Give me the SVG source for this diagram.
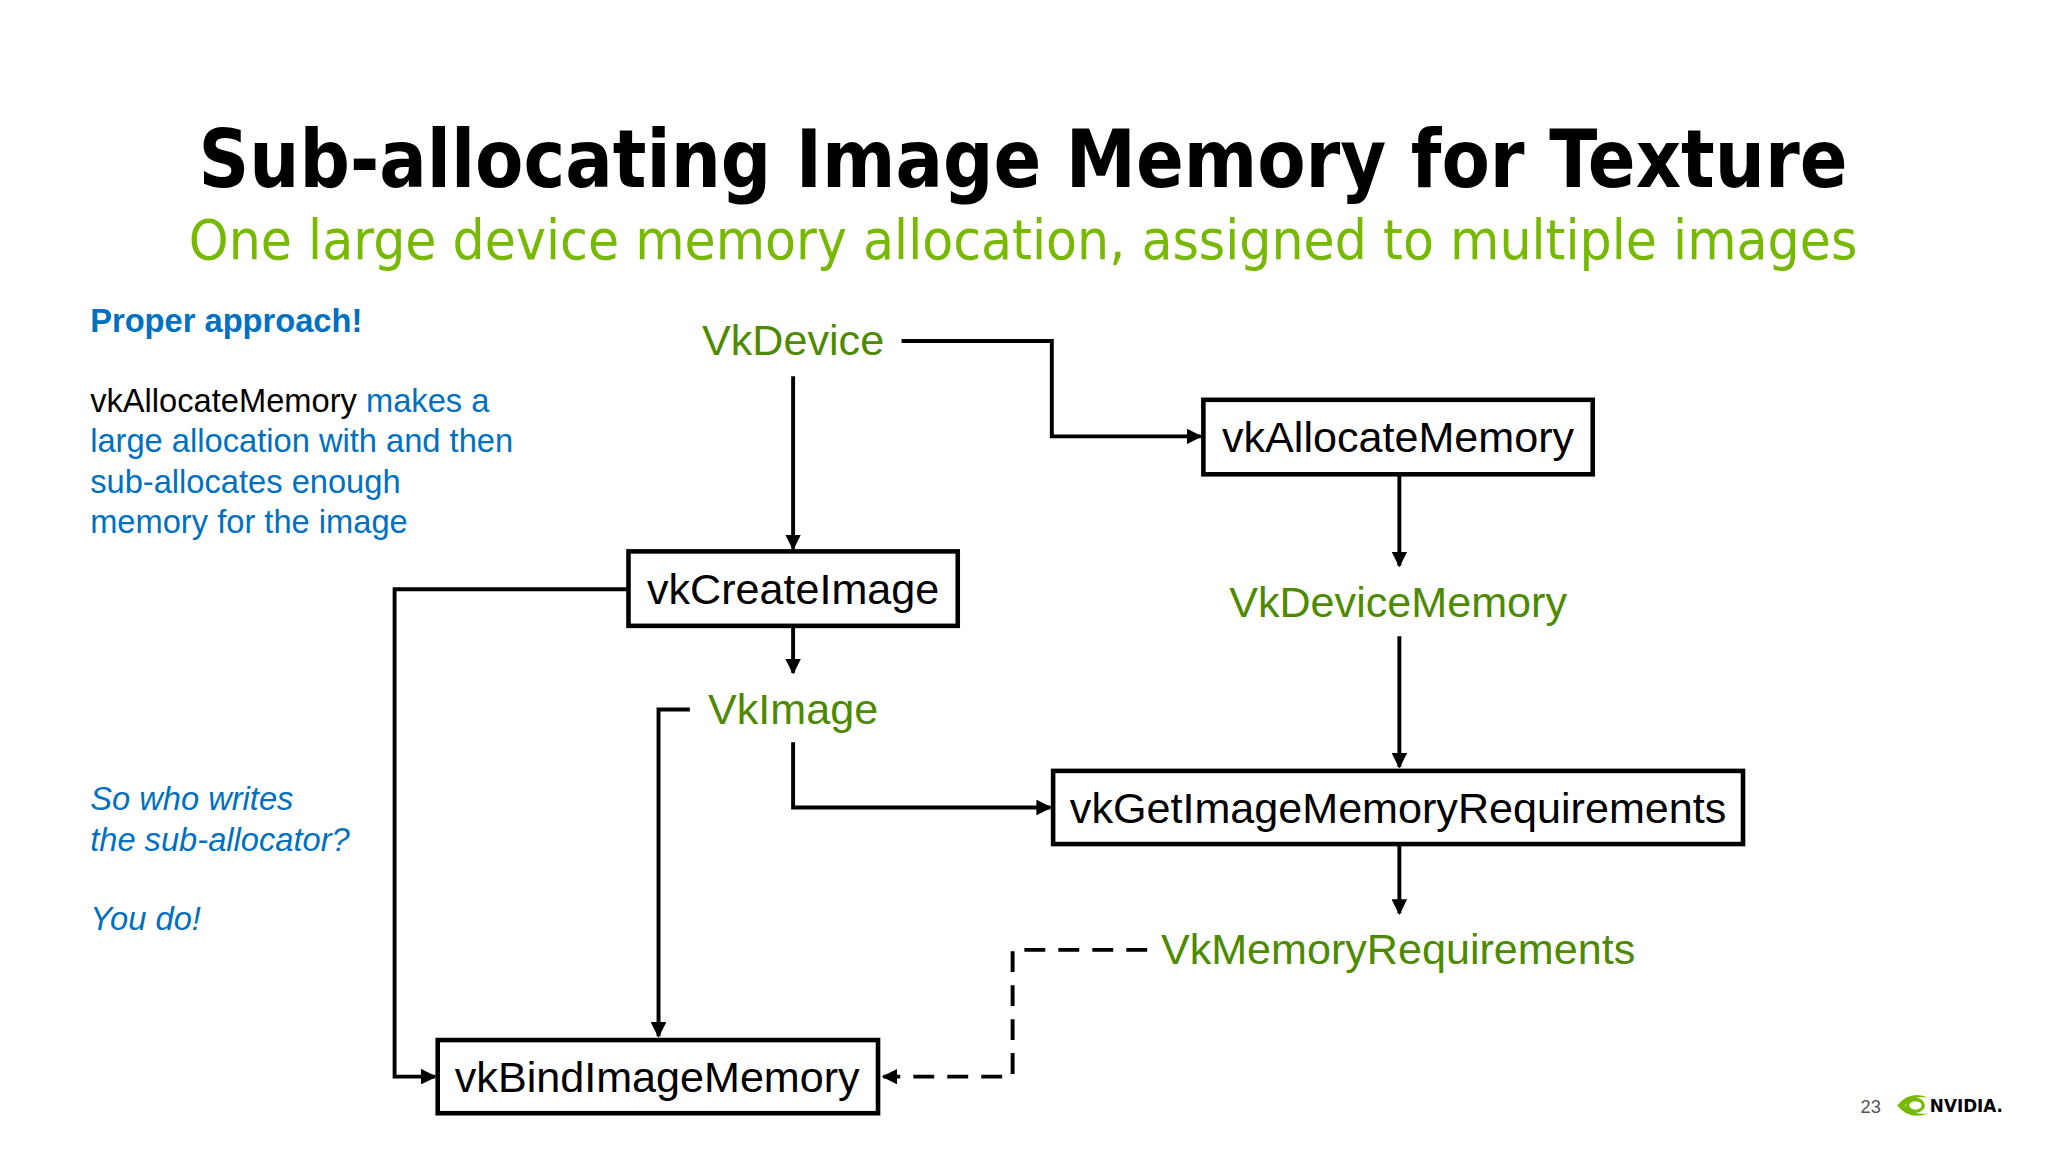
<svg xmlns="http://www.w3.org/2000/svg" width="2048" height="1152" viewBox="0 0 2048 1152">
<style>
.box{fill:#fff;stroke:#000;stroke-width:3.5}
.bt{font-family:"Liberation Sans",Arial,sans-serif;font-size:33px;fill:#000;text-anchor:middle}
.lb{font-family:"Liberation Sans",Arial,sans-serif;font-size:33px;fill:#4e8a00;text-anchor:middle}
.ln{fill:none;stroke:#000;stroke-width:3}
.side{font-family:"Liberation Sans",Arial,sans-serif;font-size:25px;fill:#0070c0}
</style>
<defs>
<marker id="ah" viewBox="0 0 10 10" refX="9" refY="5" markerWidth="4" markerHeight="4" orient="auto"><path d="M0,0L10,5L0,10z" fill="#000"/></marker>
</defs>
<rect width="2048" height="1152" fill="#fff"/>
<g transform="scale(1.3066)">
<g id="title">
<text x="783" y="143" text-anchor="middle" font-family="'DejaVu Sans',sans-serif" font-weight="bold" font-size="62" textLength="1262" lengthAdjust="spacingAndGlyphs">Sub-allocating Image Memory for Texture</text>
<text x="783" y="198" text-anchor="middle" font-family="'DejaVu Sans',sans-serif" font-size="42" fill="#76b900" textLength="1277" lengthAdjust="spacingAndGlyphs">One large device memory allocation, assigned to multiple images</text>
</g>
<g id="sidetext">
<text x="69" y="254" class="side" font-weight="bold">Proper approach!</text>
<text x="69" y="315" class="side"><tspan fill="#000">vkAllocateMemory</tspan> makes a</text>
<text x="69" y="346" class="side">large allocation with and then</text>
<text x="69" y="377" class="side">sub-allocates enough</text>
<text x="69" y="408" class="side">memory for the image</text>
<text x="69" y="620" class="side" font-style="italic">So who writes</text>
<text x="69" y="651" class="side" font-style="italic">the sub-allocator?</text>
<text x="69" y="712" class="side" font-style="italic">You do!</text>
</g>
<g id="connectors">
<path class="ln" d="M690,261H805V334H919" marker-end="url(#ah)"/>
<path class="ln" d="M607,288V420" marker-end="url(#ah)"/>
<path class="ln" d="M1071,363V433" marker-end="url(#ah)"/>
<path class="ln" d="M1071,487V587" marker-end="url(#ah)"/>
<path class="ln" d="M607,479V515" marker-end="url(#ah)"/>
<path class="ln" d="M607,568V618H804" marker-end="url(#ah)"/>
<path class="ln" d="M481,451H302V824H333" marker-end="url(#ah)"/>
<path class="ln" d="M528,543H504V793" marker-end="url(#ah)"/>
<path class="ln" d="M1071,646V699" marker-end="url(#ah)"/>
<path class="ln" d="M878,727H775V824H676" stroke-dasharray="16,10" marker-end="url(#ah)"/>
</g>
<g id="vkAllocateMemory"><rect class="box" x="921" y="306" width="298" height="57"/><text class="bt" x="1070" y="346">vkAllocateMemory</text></g>
<g id="vkCreateImage"><rect class="box" x="481" y="422" width="252" height="57"/><text class="bt" x="607" y="462">vkCreateImage</text></g>
<g id="vkGetImageMemoryRequirements"><rect class="box" x="806" y="590" width="528" height="56"/><text class="bt" x="1070" y="630">vkGetImageMemoryRequirements</text></g>
<g id="vkBindImageMemory"><rect class="box" x="335" y="796" width="337" height="56"/><text class="bt" x="503" y="836">vkBindImageMemory</text></g>
<g id="VkDevice"><text class="lb" x="607" y="272">VkDevice</text></g>
<g id="VkDeviceMemory"><text class="lb" x="1070" y="472">VkDeviceMemory</text></g>
<g id="VkImage"><text class="lb" x="607" y="554">VkImage</text></g>
<g id="VkMemoryRequirements"><text class="lb" x="1070" y="738">VkMemoryRequirements</text></g>
<g id="footer">
<text x="1424" y="852" font-family="'Liberation Sans',sans-serif" font-size="14" fill="#555">23</text>
<path d="M1452,846Q1462,834 1476,840Q1464,838 1458,846Q1464,854 1476,852Q1462,858 1452,846z" fill="#76b900"/>
<ellipse cx="1466" cy="846" rx="6" ry="4.5" fill="none" stroke="#76b900" stroke-width="2.5"/>
<text x="1477" y="851" font-family="'DejaVu Sans',sans-serif" font-weight="bold" font-size="14" fill="#000" textLength="56" lengthAdjust="spacingAndGlyphs">NVIDIA.</text>
</g>
</g>
</svg>
